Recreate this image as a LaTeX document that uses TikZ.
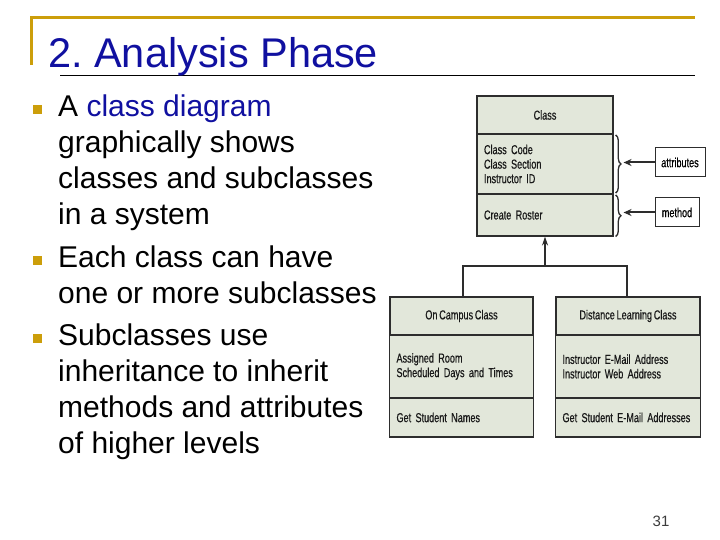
\documentclass[tikz,border=0pt]{standalone}
\usepackage{fontspec}
\setmainfont{Liberation Sans}
\newfontfamily\umlfont[FakeStretch=0.7, WordSpace=0.7, FakeBold=0.6]{Liberation Sans}
\newcommand{\nohyph}{\hyphenpenalty=10000\relax}
\definecolor{slidegold}{RGB}{204,158,10}
\definecolor{titleblue}{RGB}{16,16,160}
\definecolor{boxfill}{RGB}{226,231,218}
\definecolor{boxline}{RGB}{45,45,45}
\definecolor{pagegray}{RGB}{60,60,60}
\usetikzlibrary{positioning, arrows.meta, decorations.pathreplacing}

\begin{document}
\begin{tikzpicture}[x=1pt, y=-1pt,
    bodytext/.style={anchor=base west, inner sep=0pt,
      font=\fontsize{30}{36}\selectfont},
    bullet/.style={fill=slidegold, minimum size=9pt, inner sep=0pt},
    compart/.style={fill=boxfill, draw=boxline, line width=1.1pt,
      minimum width=#1, inner sep=0pt, text=black!90,
      font=\umlfont\fontsize{13}{14.5}\selectfont},
    compart/.default=136pt,
    listed/.style={inner xsep=7pt, text width=#1, align=left},
    tag/.style={fill=white, draw=boxline, line width=1pt, minimum height=29pt,
      inner sep=0pt, font=\umlfont\fontsize{13}{14}\selectfont},
    pointer/.style={-{Stealth[length=8pt, width=7pt]}, line width=2pt, boxline},
    curly/.style={decorate, decoration={brace, amplitude=5.5pt}, line width=1.3pt, boxline},
  ]
  \useasboundingbox[fill=white] (0,0) rectangle (720,540);

  % title and rules
  \draw[slidegold, line width=3pt] (31.5,65) -- (31.5,18) -- (695,18);
  \draw[line width=0.8pt] (60,75) -- (695,75);
  \node[anchor=base west, inner sep=0pt, text=titleblue,
    font=\fontsize{41.5}{48}\selectfont] (title) at (48,68) {2.\ Analysis Phase};

  % bullet list
  \node[bullet] (dot1) at (37,110) {};
  \node[bodytext] (l1) at (58,117) {A \textcolor{titleblue}{class diagram}};
  \node[bodytext] (l2) at (58,153) {graphically shows};
  \node[bodytext] (l3) at (58,189) {classes and subclasses};
  \node[bodytext] (l4) at (58,225) {in a system};
  \node[bullet] (dot2) at (37,260) {};
  \node[bodytext] (l5) at (58,267) {Each class can have};
  \node[bodytext] (l6) at (58,303) {one or more subclasses};
  \node[bullet] (dot3) at (37,338) {};
  \node[bodytext] (l7) at (58,345) {Subclasses use};
  \node[bodytext] (l8) at (58,381) {inheritance to inherit};
  \node[bodytext] (l9) at (58,417) {methods and attributes};
  \node[bodytext] (l10) at (58,453) {of higher levels};

  % base class
  \node[compart, minimum height=38pt] (cls-name) at (545,115) {Class};
  \node[compart, minimum height=60pt, listed=122pt] (cls-attr) at (545,164)
    {Class Code\\Class Section\\Instructor ID};
  \node[compart, minimum height=42pt, listed=122pt] (cls-meth) at (545,215)
    {Create Roster};

  % braces and labels
  \draw[curly] ([xshift=2pt, yshift=-1.5pt]cls-attr.north east)
    -- coordinate[pos=0.5, xshift=8pt] (attr-tip) ([xshift=2pt, yshift=1.5pt]cls-attr.south east);
  \draw[curly] ([xshift=2pt, yshift=-1.5pt]cls-meth.north east)
    -- coordinate[pos=0.5, xshift=8pt] (meth-tip) ([xshift=2pt, yshift=0pt]cls-meth.south east);
  \node[tag, minimum width=50pt] (attr-tag) at (680,162.5) {attributes};
  \node[tag, minimum width=44pt] (meth-tag) at (677,212.5) {method};
  \draw[pointer] (attr-tag.west) -- (attr-tag.west -| attr-tip);
  \draw[pointer] (meth-tag.west) -- (meth-tag.west -| meth-tip);

  % subclasses
  \node[compart=143pt, minimum height=38pt] (camp-name) at (461.5,316) {On Campus Class};
  \node[compart=143pt, minimum height=63pt, listed=130pt] (camp-attr) at (461.5,366.5)
    {Assigned Room\\Scheduled Days and Times};
  \node[compart=143pt, minimum height=39pt, listed=130pt] (camp-meth) at (461.5,417.5)
    {Get Student Names};
  \node[compart=144pt, minimum height=38pt] (dist-name) at (628,316) {Distance Learning Class};
  \node[compart=144pt, minimum height=63pt, listed=131pt] (dist-attr) at (628,366.5)
    {Instructor E-Mail Address\\Instructor Web Address};
  \node[compart=144pt, minimum height=39pt, listed=131pt] (dist-meth) at (628,417.5)
    {\nohyph Get Student E-Mail Addresses};

  % inheritance
  \coordinate (join) at (545,266);
  \draw[line width=1.1pt, boxline] ([xshift=1.5pt]camp-name.north) |- (join)
    -| ([xshift=-1pt]dist-name.north);
  \draw[-{Stealth[length=9pt, width=6pt]}, line width=1.2pt, boxline] (join) -- (cls-meth.south);

  \node[text=pagegray, font=\fontsize{15}{18}\selectfont] (page) at (661,521) {31};
\end{tikzpicture}
\end{document}
